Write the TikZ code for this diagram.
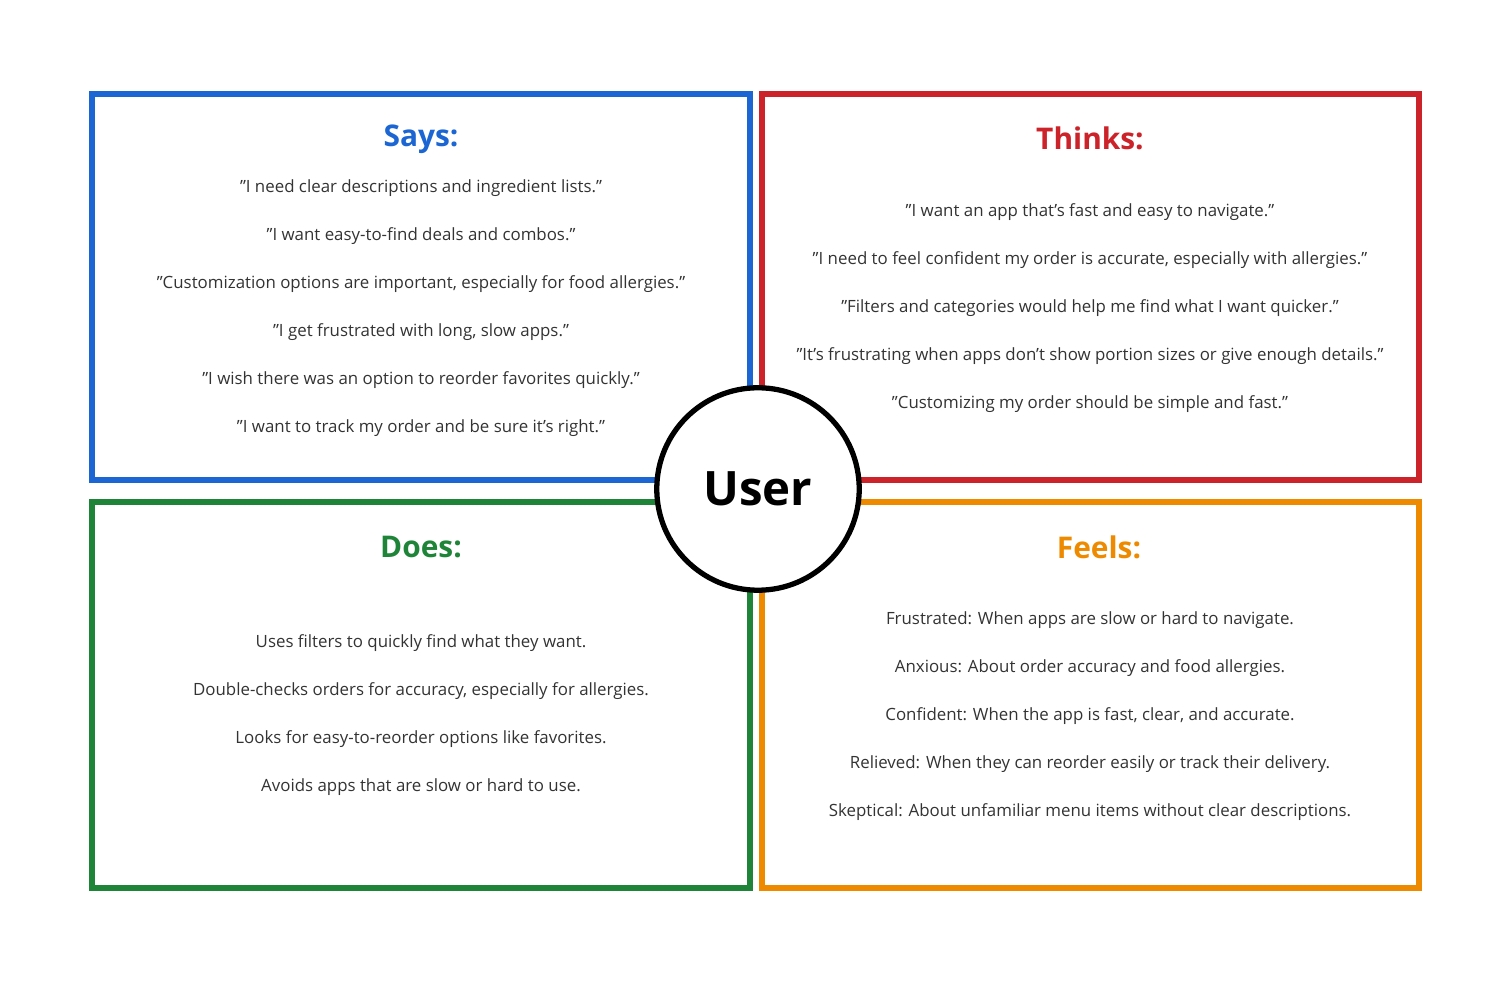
\documentclass[tikz,border=0pt]{standalone}
\usepackage{fontspec}
\setmainfont{Open Sans}
\newcommand{\qt}{\symbol{34}}
\definecolor{saysblue}{HTML}{1B66D2}
\definecolor{thinksred}{HTML}{CC2229}
\definecolor{doesgreen}{HTML}{1E8538}
\definecolor{feelsorange}{HTML}{EE8A00}
\definecolor{bodytext}{HTML}{333333}
\tikzset{
  quad/.style={line width=2.9pt},
  head/.style={font=\fontsize{17}{20}\selectfont\bfseries},
  line/.style={font=\fontsize{9.6}{12}\selectfont, text=bodytext}
}
\begin{document}
\begin{tikzpicture}[x=0.02cm, y=-0.02cm]
      \useasboundingbox (0, 0) rectangle (1512, 982);

      \draw[quad, saysblue] (92, 94) rectangle (750, 480);
      \draw[quad, thinksred] (762, 94) rectangle (1419, 480);
      \draw[quad, doesgreen] (92, 502) rectangle (750, 888);
      \draw[quad, feelsorange] (762, 502) rectangle (1419, 888);

      \node[head, text=saysblue] (says) at (421, 139) {Says:};
      \node[head, text=thinksred] (thinks) at (1090, 138) {Thinks:};
      \node[head, text=doesgreen] (does) at (421, 547) {Does:};
      \node[head, text=feelsorange] (feels) at (1099, 547) {Feels:};

      \foreach \txt [count=\i] in {
        \qt I need clear descriptions and ingredient lists.\qt,
        \qt I want easy-to-find deals and combos.\qt,
        \qt Customization options are important{,} especially for food allergies.\qt,
        \qt I get frustrated with long{,} slow apps.\qt,
        \qt I wish there was an option to reorder favorites quickly.\qt,
        \qt I want to track my order and be sure it’s right.\qt} {
        \node[line] (says\i) at (421, 140+48*\i) {\txt};
      }

      \foreach \txt [count=\i] in {
        \qt I want an app that’s fast and easy to navigate.\qt,
        \qt I need to feel confident my order is accurate{,} especially with allergies.\qt,
        \qt Filters and categories would help me find what I want quicker.\qt,
        \qt It’s frustrating when apps don’t show portion sizes or give enough details.\qt,
        \qt Customizing my order should be simple and fast.\qt} {
        \node[line] (thinks\i) at (1090, 164+48*\i) {\txt};
      }

      \foreach \txt [count=\i] in {
        Uses filters to quickly find what they want.,
        Double-checks orders for accuracy{,} especially for allergies.,
        Looks for easy-to-reorder options like favorites.,
        Avoids apps that are slow or hard to use.} {
        \node[line] (does\i) at (421, 595+48*\i) {\txt};
      }

      \foreach \txt [count=\i] in {
        Frustrated: When apps are slow or hard to navigate.,
        Anxious: About order accuracy and food allergies.,
        Confident: When the app is fast{,} clear{,} and accurate.,
        Relieved: When they can reorder easily or track their delivery.,
        Skeptical: About unfamiliar menu items without clear descriptions.} {
        \node[line] (feels\i) at (1090, 572+48*\i) {\txt};
      }

      \node[circle, draw, fill=white, line width=3pt, minimum size=4.05cm,
        font=\fontsize{27}{30}\selectfont\bfseries] (user) at (758, 489) {User};
    \end{tikzpicture}
\end{document}
